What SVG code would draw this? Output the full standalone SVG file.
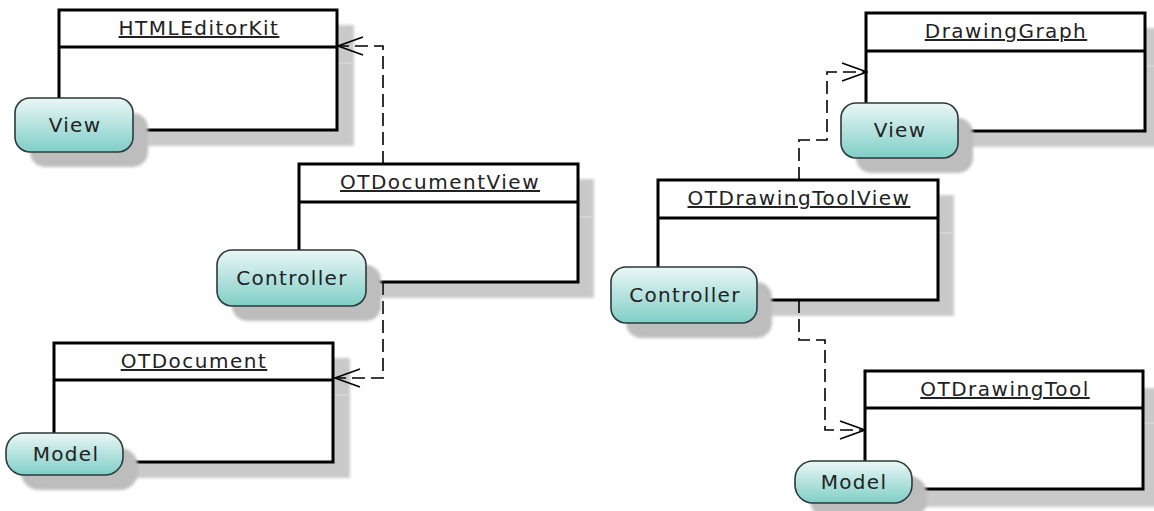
<svg xmlns="http://www.w3.org/2000/svg" width="1154" height="511" viewBox="0 0 1154 511">
  <defs>
    <linearGradient id="pillFill" x1="0" y1="0" x2="0" y2="1">
      <stop offset="0" stop-color="#eaf7f6"/>
      <stop offset="1" stop-color="#80cec7"/>
    </linearGradient>
    <filter id="soft" x="-20%" y="-20%" width="140%" height="140%">
      <feGaussianBlur stdDeviation="1.5"/>
    </filter>
    <marker id="open" viewBox="0 0 28 22" refX="27" refY="11" markerWidth="28" markerHeight="22" markerUnits="userSpaceOnUse" orient="auto">
      <path d="M2 2 L27 11 L2 20" fill="none" stroke="#000" stroke-width="1.6"/>
    </marker>
  </defs>
  <style>
    .shadow { fill: #c9c9c9; filter: url(#soft); }
    .shadowLine { stroke: #dedede; stroke-width: 1; }
    .pshadow { fill: #bdbdbd; filter: url(#soft); }
    .box { fill: #fff; stroke: #000; stroke-width: 3; }
    .div { stroke: #000; stroke-width: 3; }
    .pill { fill: url(#pillFill); stroke: #2c3a3a; stroke-width: 1.6; }
    .title { font-family: "DejaVu Sans", "Liberation Sans", sans-serif; font-size: 20px; letter-spacing: 1.5px; fill: #222; text-anchor: middle; text-decoration: underline; }
    .label { font-family: "DejaVu Sans", "Liberation Sans", sans-serif; font-size: 20px; letter-spacing: 1.3px; fill: #222; text-anchor: middle; }
    .dep { fill: none; stroke: #000; stroke-width: 1.6; stroke-dasharray: 13 6; }
  </style>

  <!-- class shadows -->
  <g id="shadows">
    <rect class="shadow" x="75" y="25" width="279" height="121"/>
    <rect class="shadow" x="315" y="179" width="279" height="119"/>
    <rect class="shadow" x="70" y="358" width="280" height="120"/>
    <rect class="shadow" x="882" y="28" width="279" height="119"/>
    <rect class="shadow" x="674" y="195" width="280" height="121"/>
    <rect class="shadow" x="881" y="388" width="278" height="119"/>
    <line class="shadowLine" x1="338" y1="63" x2="354" y2="63"/>
    <line class="shadowLine" x1="579" y1="217" x2="594" y2="217"/>
    <line class="shadowLine" x1="334" y1="395" x2="350" y2="395"/>
    <line class="shadowLine" x1="1146" y1="66" x2="1154" y2="66"/>
    <line class="shadowLine" x1="939" y1="233" x2="954" y2="233"/>
    <line class="shadowLine" x1="1144" y1="423" x2="1154" y2="423"/>
  </g>

  <g id="HTMLEditorKit">
    <rect class="box" x="59" y="10" width="278" height="120"/>
    <line class="div" x1="59" y1="47" x2="337" y2="47"/>
    <text class="title" x="199" y="35">HTMLEditorKit</text>
  </g>

  <g id="OTDocumentView">
    <rect class="box" x="299" y="164" width="279" height="118"/>
    <line class="div" x1="299" y1="202" x2="578" y2="202"/>
    <text class="title" x="440" y="189">OTDocumentView</text>
  </g>

  <g id="OTDocument">
    <rect class="box" x="54" y="343" width="279" height="119"/>
    <line class="div" x1="54" y1="380" x2="333" y2="380"/>
    <text class="title" x="194" y="368">OTDocument</text>
  </g>

  <g id="DrawingGraph">
    <rect class="box" x="866" y="13" width="279" height="118"/>
    <line class="div" x1="866" y1="51" x2="1145" y2="51"/>
    <text class="title" x="1006" y="38">DrawingGraph</text>
  </g>

  <g id="OTDrawingToolView">
    <rect class="box" x="658" y="180" width="280" height="120"/>
    <line class="div" x1="658" y1="218" x2="938" y2="218"/>
    <text class="title" x="799" y="205">OTDrawingToolView</text>
  </g>

  <g id="OTDrawingTool">
    <rect class="box" x="865" y="371" width="278" height="118"/>
    <line class="div" x1="865" y1="408" x2="1143" y2="408"/>
    <text class="title" x="1005" y="396">OTDrawingTool</text>
  </g>

  <!-- dependency connectors -->
  <g id="connectors">
    <path class="dep" d="M383 164 L383 46 L338 46" marker-end="url(#open)"/>
    <path class="dep" d="M383 282 L383 378 L335 378" marker-end="url(#open)"/>
    <path class="dep" d="M799 180 L799 140 L827 140 L827 72 L867 72" marker-end="url(#open)"/>
    <path class="dep" d="M799 300 L799 340 L825 340 L825 430 L865 430" marker-end="url(#open)"/>
  </g>

  <!-- stereotype pills -->
  <g id="pill-view-left">
    <rect class="pshadow" x="30" y="113" width="118" height="54" rx="15"/>
    <rect class="pill" x="15" y="98" width="118" height="54" rx="15"/>
    <text class="label" x="75" y="132">View</text>
  </g>
  <g id="pill-controller-left">
    <rect class="pshadow" x="232" y="265" width="149" height="56" rx="15"/>
    <rect class="pill" x="217" y="250" width="149" height="56" rx="15"/>
    <text class="label" x="292" y="285">Controller</text>
  </g>
  <g id="pill-model-left">
    <rect class="pshadow" x="21" y="448" width="117" height="42" rx="18"/>
    <rect class="pill" x="6" y="433" width="117" height="42" rx="18"/>
    <text class="label" x="66" y="461">Model</text>
  </g>
  <g id="pill-view-right">
    <rect class="pshadow" x="856" y="118" width="117" height="55" rx="15"/>
    <rect class="pill" x="841" y="103" width="117" height="55" rx="15"/>
    <text class="label" x="900" y="137">View</text>
  </g>
  <g id="pill-controller-right">
    <rect class="pshadow" x="626" y="282" width="146" height="56" rx="15"/>
    <rect class="pill" x="611" y="267" width="146" height="56" rx="15"/>
    <text class="label" x="685" y="302">Controller</text>
  </g>
  <g id="pill-model-right">
    <rect class="pshadow" x="810" y="476" width="117" height="42" rx="18"/>
    <rect class="pill" x="795" y="461" width="117" height="42" rx="18"/>
    <text class="label" x="854" y="489">Model</text>
  </g>
</svg>
